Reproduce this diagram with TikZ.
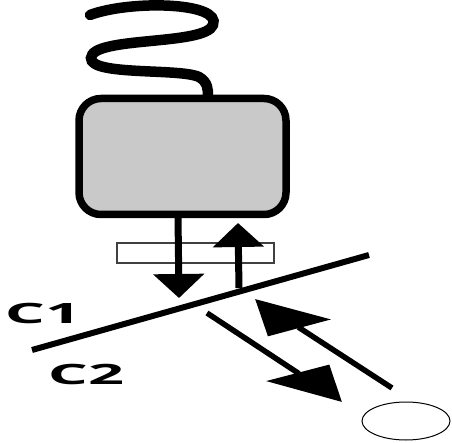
\documentclass[tikz,border=0pt]{standalone}
\usepackage{fontspec}
\setsansfont{Open Sans}
\usetikzlibrary{arrows.meta,shapes.geometric}
\definecolor{housinggray}{RGB}{201,201,201}
\tikzset{
    housing/.style={draw=black,line width=7.5pt,fill=housinggray,rounded corners=22pt,
        minimum width=207pt,minimum height=116pt,inner sep=0pt},
    cable/.style={line width=10.5pt,line cap=round},
    window/.style={draw=black!75,line width=1.2pt,fill=white,
        minimum width=157pt,minimum height=20pt,inner sep=0pt},
    surface/.style={line width=6pt},
    beamvec/.style={-{Triangle[length=24pt,width=50pt]},line width=7pt},
    rayvec/.style={-{Triangle[length=53pt,width=47pt,slant=0.9]},line width=5.5pt},
    target/.style={ellipse,draw=black,line width=1pt,
        minimum width=88pt,minimum height=38pt,inner sep=0pt},
    medlabel/.style={font=\sffamily\bfseries\fontsize{28}{30}\selectfont,xscale=2.25,inner sep=0pt}
}

\begin{document}
\begin{tikzpicture}[x=1pt,y=-1pt]
    \useasboundingbox (0,0) rectangle (452,443);
    % Probe housing and cable
    \node[housing] (probe) at (182.5,156.5) {};
    \coordinate (cabletip) at (90,15);
    \coordinate (cableend) at (208,96);
    \draw[cable] (cabletip) .. controls (130,0) and (222,2) .. (213,25)
        .. controls (205,46) and (92,36) .. (91,58)
        .. controls (90,76) and (180,68) .. (199,77)
        .. controls (208,82) and (208,90) .. (cableend);
    % Window below the probe
    \node[window] (win) at (195.5,253) {};
    % Interface between the two media
    \coordinate (ifleft) at (32,350);
    \coordinate (ifright) at (369,255);
    \draw[surface] (ifleft) -- (ifright);
    \node[medlabel] (c1) at (43,313) {C1};
    \node[medlabel] (c2) at (86,374) {C2};
    % Incident and returning beams
    \coordinate (inA) at (178,216);
    \coordinate (inB) at (179,298);
    \coordinate (upA) at (239,288);
    \coordinate (upB) at (238,223);
    \draw[beamvec] (inA) -- (inB);
    \draw[beamvec] (upA) -- (upB);
    % Target and reflected rays
    \node[target] (obj) at (406,421) {};
    \coordinate (outA) at (207,313);
    \coordinate (outB) at (342,402);
    \coordinate (backA) at (392,388);
    \coordinate (backB) at (255,299);
    \draw[rayvec] (outA) -- (outB);
    \draw[rayvec] (backA) -- (backB);
\end{tikzpicture}
\end{document}
